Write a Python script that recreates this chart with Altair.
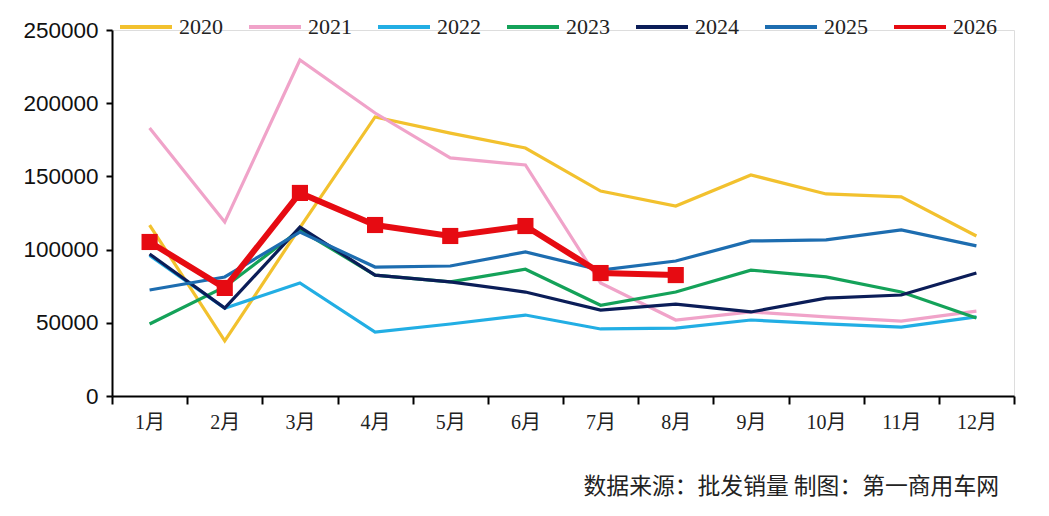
import altair as alt
import pandas as pd

months = ["1月", "2月", "3月", "4月", "5月", "6月", "7月", "8月", "9月", "10月", "11月", "12月"]
years = ["2020", "2021", "2022", "2023", "2024", "2025", "2026"]

v2020 = [116800, 37600, 115000, 190600, 179600, 169400, 140000, 129800, 151000, 138000, 136000, 109300]
v2021 = [183000, 118800, 229500, 193300, 162600, 157800, 77200, 51900, 57400, 54000, 51200, 58000]
v2022 = [96000, 60000, 77200, 43700, 49200, 55300, 45800, 46400, 51900, 49200, 47100, 54000]
v2023 = [49200, 74500, 113500, 82600, 78000, 86600, 62000, 71000, 86000, 81400, 71000, 53300]
v2024 = [97000, 60000, 115400, 82600, 78000, 71000, 58700, 62800, 57400, 66900, 69000, 84000]
v2025 = [72400, 81300, 112000, 88100, 88800, 98400, 86000, 92200, 105900, 106600, 113400, 102500]
v2026 = [105200, 73800, 138700, 116800, 109300, 116100, 84000, 82600]

series = [v2020, v2021, v2022, v2023, v2024, v2025, v2026]
colors = ["#F2C12E", "#F0A3C9", "#22AEE4", "#14A259", "#0B1D58", "#1D6DB0", "#E60B12"]

rows = []
for y, vals in zip(years, series):
    for i, v in enumerate(vals):
        rows.append({"month": months[i], "year": y, "value": v, "order": years.index(y)})
df = pd.DataFrame(rows)

x_enc = alt.X(
    "month:N",
    sort=months,
    scale=alt.Scale(type="band", domain=months, paddingInner=0, paddingOuter=0),
    bandPosition=0.5,
    axis=alt.Axis(
        title=None,
        tickBand="extent",
        tickSize=8,
        tickWidth=2,
        tickColor="black",
        domainColor="black",
        domainWidth=2,
        labelAngle=0,
        labelFont="Liberation Serif, Noto Sans CJK SC",
        labelFontSize=20,
        labelColor="#222222",
        labelPadding=8,
        grid=False,
    ),
)

y_enc = alt.Y(
    "value:Q",
    scale=alt.Scale(domain=[0, 250000], nice=False),
    axis=alt.Axis(
        title=None,
        values=[0, 50000, 100000, 150000, 200000, 250000],
        format="d",
        tickSize=6,
        tickWidth=2,
        tickColor="black",
        domainColor="black",
        domainWidth=2,
        labelFont="Liberation Sans",
        labelFontSize=22.5,
        labelColor="#111111",
        labelPadding=8,
        grid=False,
    ),
)

color_enc = alt.Color(
    "year:N",
    scale=alt.Scale(domain=years, range=colors),
    legend=alt.Legend(
        title=None,
        orient="none",
        direction="horizontal",
        legendX=6,
        legendY=-31,
        symbolType="stroke",
        symbolSize=2704,
        symbolStrokeWidth=4,
        labelFont="Liberation Serif",
        labelFontSize=22,
        labelColor="#222222",
        labelOffset=5,
        columnPadding=18,
        padding=0,
    ),
)

base = alt.Chart(df)

lines_other = base.transform_filter(alt.datum.year != "2026").mark_line(strokeWidth=3.2).encode(
    x=x_enc, y=y_enc, color=color_enc, order=alt.Order("order:Q"),
    detail="year:N",
)

line26 = base.transform_filter(alt.datum.year == "2026").mark_line(strokeWidth=6).encode(
    x=x_enc, y=y_enc, color=alt.Color("year:N", scale=alt.Scale(domain=years, range=colors), legend=None)
)

points26 = base.transform_filter(alt.datum.year == "2026").mark_point(
    shape="square", filled=True, size=260, opacity=1
).encode(
    x=x_enc, y=y_enc, color=alt.Color("year:N", scale=alt.Scale(domain=years, range=colors), legend=None)
)

chart = (
    alt.layer(lines_other, line26, points26)
    .properties(
        width=902,
        height=366,
        autosize=alt.AutoSizeParams(type="none"),
        padding={"left": 104, "top": 22, "right": 27, "bottom": 110},
        title=alt.TitleParams(
            "数据来源：批发销量 制图：第一商用车网",
            orient="bottom",
            anchor="end",
            font="Noto Sans CJK SC",
            fontSize=22.8,
            fontWeight="normal",
            color="#222222",
            offset=44,
            dx=-16,
        ),
    )
    .configure_view(stroke=None)
    .configure(background="white")
)

chart.save("out.html", embed_options={"renderer": "svg", "actions": False})
